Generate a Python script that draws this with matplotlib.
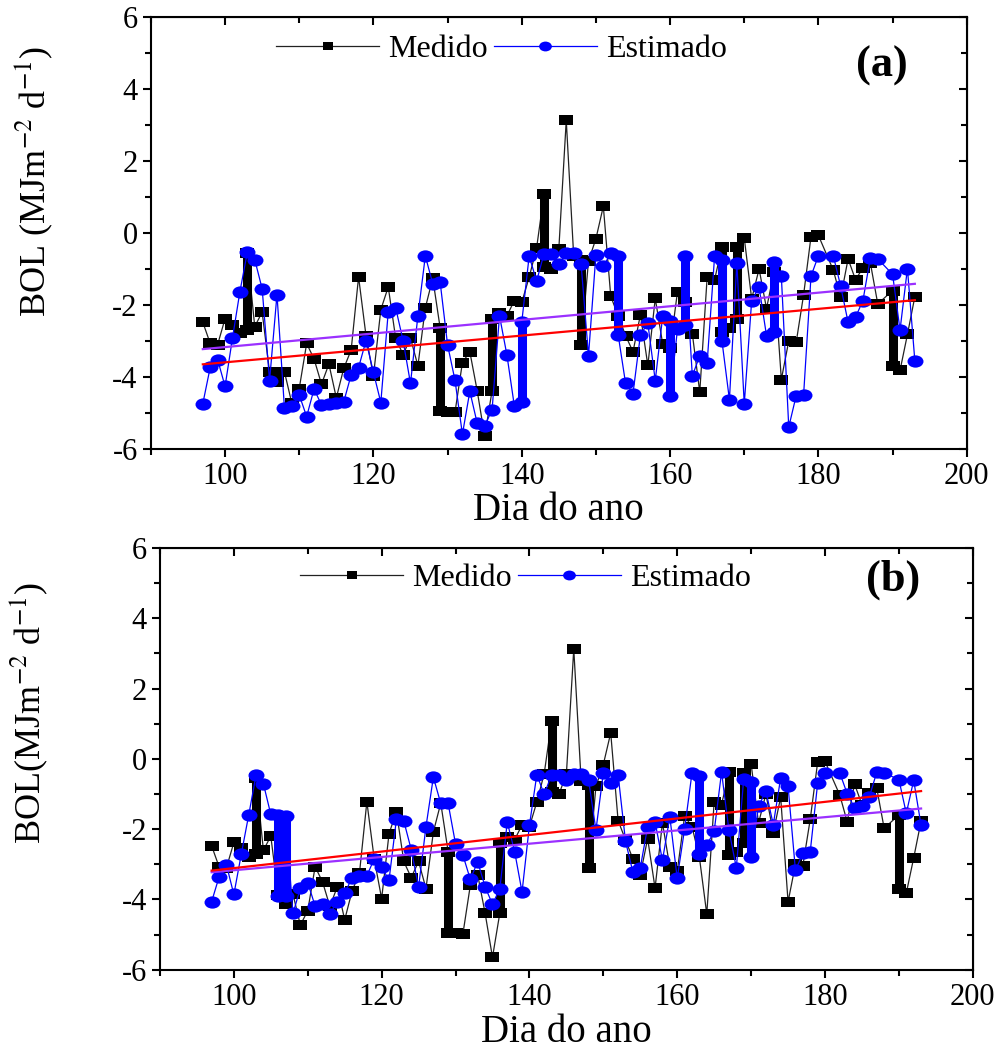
import numpy as np
import matplotlib
matplotlib.use("Agg")
import matplotlib.pyplot as plt
from matplotlib.path import Path
from matplotlib.transforms import Affine2D
from matplotlib.ticker import MultipleLocator

plt.rcParams['font.family'] = ['Liberation Serif', 'DejaVu Serif']
plt.rcParams['mathtext.fontset'] = 'stix'
plt.rcParams['axes.unicode_minus'] = False

# dias do ano (181 e 189 sem dados)
DIAS = list(range(97, 181)) + list(range(182, 189)) + list(range(190, 194))

# uma lista [a, b] = dois valores no mesmo dia (barra vertical)
MEDIDO = [
    -2.48, -3.07, -3.10, -2.38, -2.55, -2.78, [-2.70, -0.55], -2.60, -2.20, -3.87,
    -4.13, -3.85, -4.73, -4.32, -3.07, -3.50, -4.20, -3.64, -4.58, -3.76,
    -3.25, -1.22, -2.85, -3.98, -2.13, -1.50, -2.92, -3.38, -2.92, -3.69,
    -2.08, -1.26, [-2.64, -4.95], -4.96, -4.98, -3.60, -3.30, -4.39, -5.65, [-4.38, -2.40],
    -2.22, -2.30, -1.88, -1.93, -1.23, -0.42, [1.07, -0.95], -1.00, -0.44, 3.13,
    -0.63, [-0.75, -3.12], -0.78, -0.16, 0.74, -1.76, -2.30, -2.85, -3.30, -2.27,
    -3.68, -1.82, -3.08, -3.20, -1.63, -1.93, -2.80, -4.42, -1.22, -1.30,
    [-0.38, -2.75], -2.65, [-2.40, -0.40], -0.14, -1.83, -1.00, -2.10, -1.09, -4.07, -3.00,
    -3.04, -1.72, -0.10, -0.07, -1.03, -1.79, -0.72, -1.30, -0.97,
    -0.83, -1.97, [-1.60, -3.70], -3.82, -2.82, -1.77,
]

ESTIMADO_A = [
    -4.74, -3.73, -3.52, -4.26, -2.92, -1.63, -0.54, -0.74, -1.55, -4.10,
    -1.71, -4.85, -4.80, -4.50, -5.10, -4.33, -4.78, -4.74, -4.72, -4.69,
    -3.94, -3.74, -2.99, -3.87, -4.71, -2.19, -2.08, -2.99, -4.18, -2.30,
    -0.64, -1.41, -1.37, -3.11, -4.09, -5.59, -4.40, -5.29, -5.36, -4.91,
    -2.30, -3.39, -4.80, [-4.70, -2.48], -0.64, -1.34, -0.58, -0.58, -0.86, -0.57,
    -0.57, -0.86, -3.41, -0.60, -0.93, -0.56, [-0.65, -2.83], -4.18, -4.46, -2.83,
    -2.51, -4.10, -2.32, [-2.45, -4.52], -2.67, [-2.55, -0.63], -3.97, -3.41, -3.60, -0.65,
    [-0.75, -3.01], -4.63, -0.84, -4.75, -1.88, -1.51, -2.85, [-2.75, -0.81], -1.20, -5.39,
    -4.52, -4.50, -1.20, -0.63, -0.63, -1.48, -2.48, -2.34, -1.88,
    -0.69, -0.72, -1.15, -2.70, -0.99, -3.55,
]

ESTIMADO_B = [
    -4.06, -3.36, -3.02, -3.86, -2.72, -1.61, -0.47, -0.71, -1.58, [-1.60, -3.90],
    [-3.90, -1.63], -4.40, -3.68, -3.52, -4.19, -4.14, -4.42, -4.06, -3.83, -3.38,
    -3.33, -3.33, -2.84, -3.08, -3.45, -1.72, -1.77, -2.58, -3.65, -1.93,
    -0.52, -1.27, -1.27, -2.42, -2.74, -3.43, -2.93, -3.64, -4.14, -3.69,
    -1.80, -2.64, -3.79, -1.89, -0.45, -1.01, -0.45, -0.45, -0.59, -0.42,
    -0.42, -0.59, -2.03, -0.40, -0.68, -0.45, -2.34, -3.22, -3.10, -1.93,
    -1.79, -2.89, -1.65, -3.40, -1.99, -0.40, [-0.50, -2.72], -2.46, -2.06, -0.38,
    -2.03, -3.10, -0.56, [-0.65, -2.79], -1.35, -0.92, -1.87, -0.54, -0.78, -3.17,
    -2.69, -2.64, -0.70, -0.40, -0.40, -0.99, -1.39, -1.35, -1.08,
    -0.38, -0.40, -0.59, -1.55, -0.61, -1.89,
]

PAINEIS = ["(a)", "(b)"]


def expandir(dias, valores):
    x, y, barras = [], [], []
    for d, v in zip(dias, valores):
        if isinstance(v, list):
            x += [d] * len(v)
            y += v
            barras.append((d, min(v), max(v)))
        else:
            x.append(d)
            y.append(v)
    return np.array(x, dtype=float), np.array(y, dtype=float), barras


# marcadores "esticados" como na figura original
QUADRADO = Path.unit_rectangle().transformed(Affine2D().translate(-0.5, -0.5).scale(1.45, 1.0))
ELIPSE = Path.unit_circle().transformed(Affine2D().scale(1.3, 1.0))


def espelhar(ax):
    # ticks para dentro no topo e a direita
    top = ax.secondary_xaxis("top")
    top.xaxis.set_major_locator(MultipleLocator(20))
    top.xaxis.set_minor_locator(MultipleLocator(10))
    top.tick_params(which="both", direction="in", labeltop=False, width=1.5)
    top.tick_params(which="major", length=6)
    top.tick_params(which="minor", length=4)
    right = ax.secondary_yaxis("right")
    right.yaxis.set_major_locator(MultipleLocator(2))
    right.yaxis.set_minor_locator(MultipleLocator(1))
    right.tick_params(which="both", direction="in", labelright=False, width=1.5)
    right.tick_params(which="major", length=6)
    right.tick_params(which="minor", length=4)


def painel(ax, est, rotulo, leg_xy, rot_xy, ylab):
    xm, ym, bm = expandir(DIAS, MEDIDO)
    xe, ye, be = expandir(DIAS, est)

    ax.plot(xm, ym, color="#222222", lw=0.9, marker=QUADRADO, ms=9.4, mew=0,
            mfc="black", label="Medido", zorder=2)
    for d, lo, hi in bm:
        ax.vlines(d, lo, hi, color="black", lw=6.5, zorder=2)
    ax.plot(xe, ye, color="blue", lw=0.9, marker=ELIPSE, ms=11.5, mew=0,
            mfc="blue", label="Estimado", zorder=3)
    for d, lo, hi in be:
        ax.vlines(d, lo, hi, color="blue", lw=6.5, zorder=3)

    # tendencias lineares
    for x, y, c in [(xm, ym, "#9B30FF"), (xe, ye, "red")]:
        a, b = np.polyfit(x, y, 1)
        xx = np.array([x.min(), x.max()])
        ax.plot(xx, a * xx + b, color=c, lw=1.6, zorder=4)

    ax.set_xlim(90, 200)
    ax.set_ylim(-6, 6)
    ax.xaxis.set_major_locator(MultipleLocator(20))
    ax.xaxis.set_minor_locator(MultipleLocator(10))
    ax.yaxis.set_major_locator(MultipleLocator(2))
    ax.yaxis.set_minor_locator(MultipleLocator(1))
    ax.tick_params(which="both", direction="out", labelsize=22, width=1.5)
    ax.tick_params(which="major", length=6)
    ax.tick_params(which="minor", length=4)
    for s in ax.spines.values():
        s.set_linewidth(1.5)
    espelhar(ax)

    ax.set_xlabel("Dia do ano", fontsize=28)
    ax.set_ylabel(ylab, fontsize=26)

    ax.legend(loc="center", bbox_to_anchor=leg_xy, ncol=2, frameon=False,
              fontsize=23, handlelength=3.2, columnspacing=0.2, handletextpad=0.3,
              markerscale=0.8, borderaxespad=0)
    ax.text(rot_xy[0], rot_xy[1], rotulo, transform=ax.transAxes, fontsize=32,
            fontweight="bold", ha="center", va="center")


fig = plt.figure(figsize=(10.06, 10.54), dpi=100)
ax1 = fig.add_axes([0.150, 0.574, 0.811, 0.410])
ax2 = fig.add_axes([0.159, 0.080, 0.808, 0.400])

painel(ax1, ESTIMADO_A, PAINEIS[0], (0.43, 0.925), (0.896, 0.887),
       r"BOL (MJm$^{-2}$ d$^{-1}$)")
painel(ax2, ESTIMADO_B, PAINEIS[1], (0.45, 0.929), (0.902, 0.924),
       r"BOL(MJm$^{-2}$ d$^{-1}$)")
ax1.yaxis.set_label_coords(-0.118, 0.62)
ax2.yaxis.set_label_coords(-0.135, 0.61)
ax1.xaxis.set_label_coords(0.5, -0.1)
ax2.xaxis.set_label_coords(0.5, -0.105)

fig.savefig("out.png", dpi=100)
